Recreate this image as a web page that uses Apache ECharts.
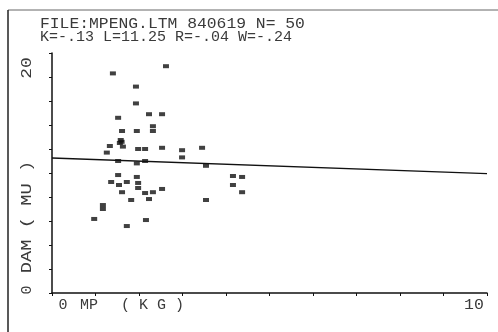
<!DOCTYPE html>
<html>
<head>
<meta charset="utf-8">
<script src="https://cdn.jsdelivr.net/npm/echarts@6/dist/echarts.min.js"></script>
<style>
  html, body { margin: 0; padding: 0; background: #fff; }
  #chart { width: 498px; height: 332px; }
</style>
</head>
<body>
<div id="chart"></div>
<script>
  // MP (kg) vs DAM (MU), 50 records
  var mpKg = [
    2.62, 1.40, 1.93, 1.93, 2.23, 2.53, 1.52, 2.32, 2.32, 1.61,
    1.95, 1.33, 1.56, 1.58, 1.63, 1.26, 1.98, 2.14, 2.53, 2.99,
    2.99, 3.45, 1.52, 1.95, 2.14, 3.54, 4.16, 4.37, 4.16, 4.37,
    1.52, 1.95, 1.36, 1.54, 1.72, 1.98, 1.98, 1.61, 2.14, 2.32,
    2.53, 1.82, 2.23, 3.54, 1.17, 1.17, 0.97, 2.16, 1.72, 1.60
  ];
  var damMu = [
    18.9, 18.3, 17.2, 15.8, 14.9, 14.9, 14.6, 13.9, 13.5, 13.5,
    13.5, 12.25, 12.5, 12.75, 12.2, 11.7, 12.0, 12.0, 12.1, 11.9,
    11.3, 12.1, 11.0, 10.8, 11.0, 10.6, 9.75, 9.67, 9.0, 8.4,
    9.83, 9.67, 9.25, 9.0, 9.25, 9.17, 8.75, 8.4, 8.33, 8.4,
    8.67, 7.75, 7.83, 7.75, 7.33, 7.0, 6.17, 6.08, 5.58, 12.6
  ];
  // fitted line ends, from K and L in the header
  var fitX = [0, 10];
  var fitY = [11.25, 9.95];

  var titleLine1 = "FILE:MPENG.LTM 840619 N= 50";
  var titleLine2 = "K=-.13 L=11.25 R=-.04 W=-.24";

  var ink = "#111";
  var textInk = "#3a3a3a";
  var mono = "'Liberation Mono', 'DejaVu Sans Mono', monospace";

  var points = mpKg.map(function(x, i) { return [x, damMu[i]]; });
  var fit = fitX.map(function(x, i) { return [x, fitY[i]]; });

  // printer text: stretch along the writing direction with sx
  function label(text, x, y, rotation, align, sx) {
    return {
      type: "text",
      x: x,
      y: y,
      rotation: rotation || 0,
      scaleX: sx || 1,
      style: {
        text: text,
        fill: textInk,
        font: "15px " + mono,
        align: align || "left",
        verticalAlign: "middle"
      }
    };
  }

  var chart = echarts.init(document.getElementById("chart"), null, {renderer: "canvas"});

  chart.setOption({
    animation: false,
    grid: { left: 52, right: 11, top: 53, bottom: 39 },
    xAxis: {
      type: "value",
      min: 0,
      max: 10,
      interval: 1,
      axisLine: { lineStyle: { color: ink, width: 1.5 } },
      axisTick: { show: true, length: 3, lineStyle: { color: ink } },
      axisLabel: { show: false },
      splitLine: { show: false }
    },
    yAxis: {
      type: "value",
      min: 0,
      max: 20,
      interval: 2,
      axisLine: { show: true, lineStyle: { color: ink, width: 1.5 } },
      axisTick: { show: true, length: 3, lineStyle: { color: ink } },
      axisLabel: { show: false },
      splitLine: { show: false }
    },
    series: [
      {
        type: "scatter",
        data: points,
        symbol: "rect",
        symbolSize: [6, 4],
        itemStyle: { color: ink }
      },
      {
        type: "line",
        data: fit,
        symbol: "none",
        lineStyle: { color: ink, width: 1.3 }
      }
    ],
    graphic: [
      // page border of the printout
      { type: "line", shape: { x1: 8, y1: 10, x2: 498, y2: 10 }, style: { stroke: "#666", lineWidth: 1 } },
      { type: "line", shape: { x1: 8, y1: 10, x2: 8, y2: 332 }, style: { stroke: "#222", lineWidth: 1.5 } },
      label(titleLine1, 40, 24, 0, "left", 1.09),
      label(titleLine2, 40, 37, 0, "left", 1.0),
      label("20", 27, 68, Math.PI / 2, "center", 1.2),
      label("DAM ( MU )", 27, 217, Math.PI / 2, "center", 1.25),
      label("0", 27, 290, Math.PI / 2, "center"),
      label("0", 63, 305, 0, "center"),
      label("MP", 80, 305),
      label("( K G )", 121, 305),
      label("10", 474, 305, 0, "center", 1.1)
    ]
  });
</script>
</body>
</html>
